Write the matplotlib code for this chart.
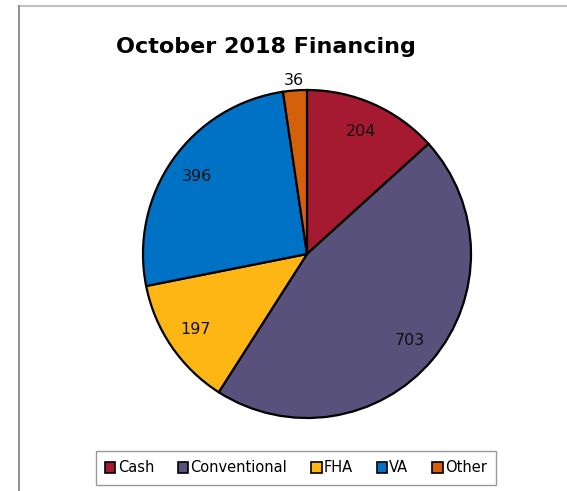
import matplotlib
matplotlib.use("Agg")
import matplotlib.pyplot as plt
from matplotlib.lines import Line2D
import numpy as np

# financing types and counts for the month
categories = ['Cash', 'Conventional', 'FHA', 'VA', 'Other']
counts = [204, 703, 197, 396, 36]
colors = ['#A51A30', '#58517B', '#FDB614', '#0072C6', '#D5600C']

W, H = 567, 491
fig = plt.figure(figsize=(W / 100, H / 100), dpi=100)

# frame around the chart area
fig.add_artist(Line2D([19 / W, 1], [1 - 6 / H, 1 - 6 / H], color='#c0c0c0', lw=1.5))
fig.add_artist(Line2D([19 / W, 19 / W], [0, 1 - 6 / H], color='#7f7f7f', lw=1.2))

# pie placed by its centre and radius in pixels
cx, cy, r = 307, 254, 164
ax = fig.add_axes([(cx - r) / W, 1 - (cy + r) / H, 2 * r / W, 2 * r / H])
wedges, _ = ax.pie(counts, colors=colors, startangle=90, counterclock=False,
                   radius=1, wedgeprops={'edgecolor': 'black', 'linewidth': 1.6})
ax.set_xlim(-1, 1)
ax.set_ylim(-1, 1)
ax.set_aspect('equal')
ax.axis('off')

for w, v in zip(wedges, counts):
    mid = np.deg2rad((w.theta1 + w.theta2) / 2)
    d = 1.06 if v < 50 else 0.82
    ax.text(d * np.cos(mid), d * np.sin(mid), str(v), ha='center', va='center',
            fontsize=11.5, color='#111111', clip_on=False)

fig.text(266 / W, 1 - 47 / H, 'October 2018 Financing', ha='center', va='center',
         fontsize=16, fontweight='bold')

leg = fig.legend(wedges, categories, loc='center', bbox_to_anchor=(296 / W, 1 - 468 / H),
                 ncol=5, frameon=True, fancybox=False, fontsize=10.5, handlelength=0.7,
                 handleheight=0.7, handletextpad=0.15, columnspacing=1.65, borderpad=0.65)
leg.get_frame().set_edgecolor('#808080')
leg.get_frame().set_linewidth(1.0)
for h in leg.legend_handles:
    h.set_linewidth(1.2)

fig.savefig('out.png', dpi=100)
